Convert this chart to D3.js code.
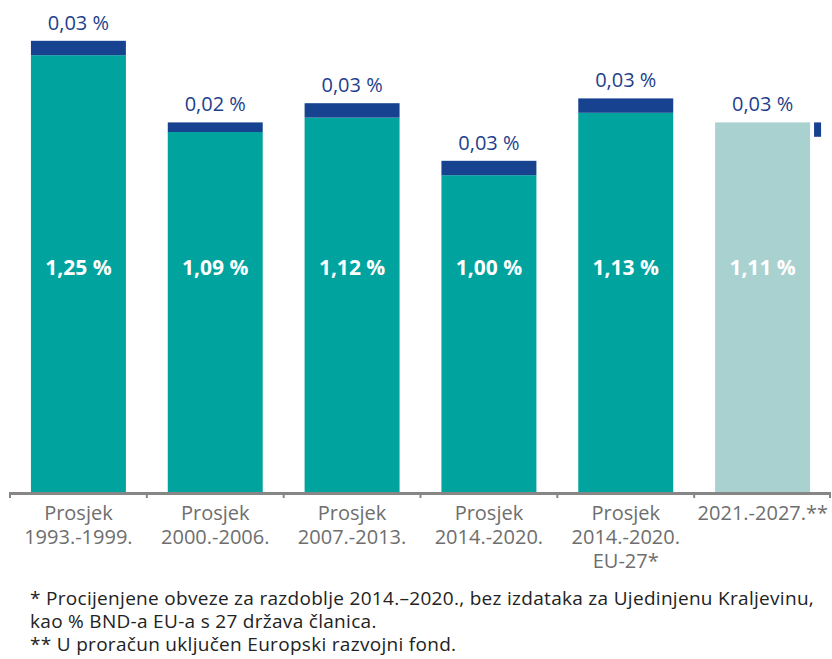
<!DOCTYPE html>
<html>
<head>
<meta charset="utf-8">
<script src="https://cdn.jsdelivr.net/npm/d3@7"></script>
<style>
  body { margin: 0; background: #fff; }
  svg { display: block; font-family: "Open Sans", sans-serif; }
</style>
</head>
<body>
<div id="chart"></div>
<script>
// periods on the x axis (each entry = label lines)
const categories = [
    ['Prosjek', '1993.-1999.'],
    ['Prosjek', '2000.-2006.'],
    ['Prosjek', '2007.-2013.'],
    ['Prosjek', '2014.-2020.'],
    ['Prosjek', '2014.-2020.', 'EU-27*'],
    ['2021.-2027.**']
];
const mainValues = [1.25, 1.09, 1.12, 1.00, 1.13, 1.11];
const extraValues = [0.03, 0.02, 0.03, 0.03, 0.03, 0.03];
const projected = [false, false, false, false, false, true];
const footnotes = [
    '* Procijenjene obveze za razdoblje 2014.–2020., bez izdataka za Ujedinjenu Kraljevinu,',
    'kao % BND-a EU-a s 27 država članica.',
    '** U proračun uključen Europski razvojni fond.'
];

const fmt = v => v.toFixed(2).replace('.', ',') + ' %';

const width = 832, height = 659;
const baseY = 492;

const svg = d3.select('#chart')
    .append('svg')
    .attr('width', width)
    .attr('height', height);

const keys = categories.map((c, i) => i);

const x = d3.scaleBand()
    .domain(keys)
    .range([10, 831])
    .paddingInner(0.306)
    .paddingOuter(0.153);

// the value axis of the original does not start at zero
const y = d3.scaleLinear()
    .domain([0.34, 1.30])
    .range([baseY, baseY - 480 * 0.96]);

const teal = '#00a39d', lightTeal = '#a9d1d0', blue = '#17428f';

// main bars
svg.selectAll('.bar')
    .data(keys)
    .enter()
    .append('rect')
    .attr('class', 'bar')
    .attr('x', i => x(i))
    .attr('y', i => y(mainValues[i]))
    .attr('width', x.bandwidth())
    .attr('height', i => baseY - y(mainValues[i]))
    .style('fill', i => projected[i] ? lightTeal : teal);

// small stacked segment on top (shown beside the bar for the projection)
svg.selectAll('.extra')
    .data(keys)
    .enter()
    .append('rect')
    .attr('class', 'extra')
    .attr('x', i => projected[i] ? x(i) + x.bandwidth() + 4 : x(i))
    .attr('y', i => projected[i] ? y(mainValues[i]) : y(mainValues[i] + extraValues[i]))
    .attr('width', i => projected[i] ? 7 : x.bandwidth())
    .attr('height', i => y(mainValues[i]) - y(mainValues[i] + extraValues[i]))
    .style('fill', blue);

// labels above bars
svg.selectAll('.top-label')
    .data(keys)
    .enter()
    .append('text')
    .attr('class', 'top-label')
    .attr('x', i => x(i) + x.bandwidth() / 2)
    .attr('y', i => y(mainValues[i] + (projected[i] ? 0 : extraValues[i])) - 11)
    .attr('text-anchor', 'middle')
    .style('font-size', '20px')
    .style('fill', '#1d3f8c')
    .text(i => fmt(extraValues[i]));

// value labels inside bars
svg.selectAll('.in-label')
    .data(keys)
    .enter()
    .append('text')
    .attr('class', 'in-label')
    .attr('x', i => x(i) + x.bandwidth() / 2)
    .attr('y', 275)
    .attr('text-anchor', 'middle')
    .style('font-size', '21px')
    .style('font-weight', 'bold')
    .style('fill', '#fff')
    .text(i => fmt(mainValues[i]));

// axis line with ticks at band boundaries
const step = x.step();
const edges = d3.range(categories.length + 1).map(k => 10 + k * step);
svg.append('line')
    .attr('x1', 10).attr('x2', 831)
    .attr('y1', baseY + 1.5).attr('y2', baseY + 1.5)
    .style('stroke', '#868686')
    .style('stroke-width', 3);
svg.selectAll('.tick')
    .data(edges)
    .enter()
    .append('line')
    .attr('x1', d => Math.min(d, 830)).attr('x2', d => Math.min(d, 830))
    .attr('y1', baseY).attr('y2', baseY + 6)
    .style('stroke', '#868686')
    .style('stroke-width', 2);

// category labels
const cat = svg.selectAll('.cat')
    .data(keys)
    .enter()
    .append('text')
    .attr('class', 'cat')
    .attr('text-anchor', i => projected[i] ? 'end' : 'middle')
    .style('font-size', '20px')
    .style('fill', '#6e6e6e');
cat.selectAll('tspan')
    .data(i => categories[i].map(t => ({ t, i })))
    .enter()
    .append('tspan')
    .attr('x', d => projected[d.i] ? x(d.i) + x.bandwidth() + 18 : x(d.i) + x.bandwidth() / 2)
    .attr('y', (d, k) => 520 + k * 24)
    .text(d => d.t);

// footnotes
svg.selectAll('.note')
    .data(footnotes)
    .enter()
    .append('text')
    .attr('class', 'note')
    .attr('x', 30)
    .attr('y', (d, k) => 605 + k * 23)
    .style('font-size', '19px')
    .style('letter-spacing', '0.3px')
    .style('fill', '#222')
    .text(d => d);
</script>
</body>
</html>
